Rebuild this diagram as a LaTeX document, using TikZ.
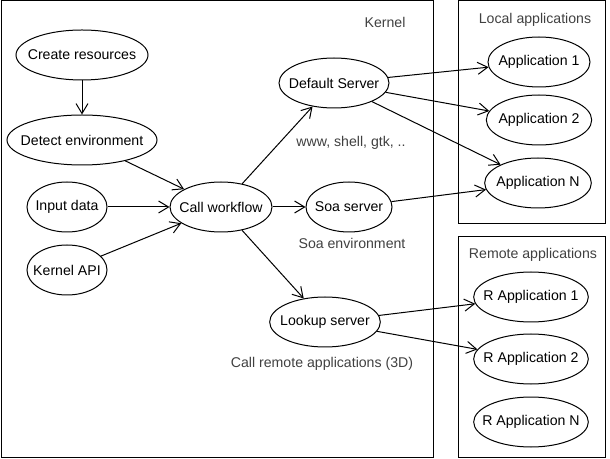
\documentclass[tikz,border=0pt]{standalone}
\usepackage{xcolor}
\usepackage{fontspec}
\setmainfont{Liberation Sans}
\usetikzlibrary{shapes,arrows.meta,positioning}
\definecolor{notegray}{HTML}{404040}

\begin{document}
\begin{tikzpicture}[x=0.75pt, y=-0.75pt, line width=0.75pt,
    every node/.style={font=\fontsize{10.6}{12}\selectfont},
    usecase/.style={ellipse, draw, inner xsep=-8pt, inner ysep=0pt, minimum height=37.5pt},
    note/.style={text=notegray},
    link/.style={-{Straight Barb[length=7.5pt,width=9pt]}}]
    \useasboundingbox (0,0) rectangle (610,459);

    % Boxes
    \draw (1,1) rectangle (433,457);
    \draw (458,1) rectangle (605,224);
    \draw (458,237) rectangle (605,457);
    \node[note] (kernel) at (385,22) {Kernel};
    \node[note] (local) at (535,20) {Local applications};
    \node[note] (remote) at (533,255) {Remote applications};

    % Kernel
    \node[usecase, minimum width=99pt] (create) at (82,55) {Create resources};
    \node[usecase, minimum width=112.5pt] (detect) at (82,140) {Detect environment};
    \node[usecase, minimum width=60pt] (input) at (67,207) {Input data};
    \node[usecase, minimum width=60pt] (api) at (67,270) {Kernel API};
    \node[usecase, minimum width=76.5pt] (call) at (221,207) {Call workflow};
    \node[usecase, minimum width=82.5pt] (default) at (334,83) {Default Server};
    \node[usecase, minimum width=64.5pt] (soa) at (349,207) {Soa server};
    \node[usecase, minimum width=83pt] (lookup) at (325,322) {Lookup server};
    \node[note] (www) at (351,143) {www, shell, gtk, ..};
    \node[note] (soaenv) at (352,243) {Soa environment};
    \node[note] (callremote) at (322,364) {Call remote applications (3D)};

    % Applications
    \node[usecase, minimum width=76.5pt] (app1) at (539,62) {Application 1};
    \node[usecase, minimum width=79pt] (app2) at (539,120) {Application 2};
    \node[usecase, minimum width=80pt] (appn) at (538,183) {Application N};
    \node[usecase, minimum width=86pt] (rapp1) at (531,297) {R Application 1};
    \node[usecase, minimum width=86pt] (rapp2) at (531,359) {R Application 2};
    \node[usecase, minimum width=86pt] (rappn) at (531,422) {R Application N};

    % Arrows
    \draw[link] (create) -- (detect);
    \draw[link] (detect) -- (call);
    \draw[link] (input) -- (call);
    \draw[link] (api) -- (call);
    \draw[link] (call) -- (default);
    \draw[link] (call) -- (soa);
    \draw[link] (call) -- (lookup);
    \draw[link] (default) -- (app1);
    \draw[link] (default) -- (app2);
    \draw[link] (default) -- (appn);
    \draw[link] (soa) -- (appn);
    \draw[link] (lookup) -- (rapp1);
    \draw[link] (lookup) -- (rapp2);
\end{tikzpicture}
\end{document}
